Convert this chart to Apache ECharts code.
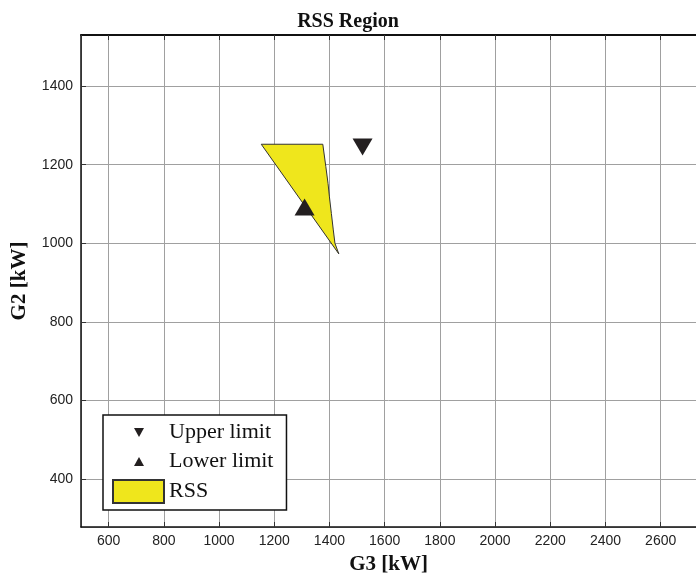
<!DOCTYPE html>
<html>
<head>
<meta charset="utf-8">
<script src="https://cdn.jsdelivr.net/npm/echarts@6/dist/echarts.min.js"></script>
<style>
  html, body { margin: 0; padding: 0; background: #fff; }
  #chart-container { width: 696px; height: 580px; }
</style>
</head>
<body>
<div id="chart-container"></div>
<script>
// RSS polygon outline (G3, G2) in kW
const rssG3 = [1153, 1376, 1387, 1395, 1400, 1407, 1414, 1420, 1434];
const rssG2 = [1252, 1252, 1195, 1152, 1118, 1076, 1034, 1000, 973];
// limit markers [G3, G2]
const upperLimit = [[1520, 1245]];
const lowerLimit = [[1310, 1092]];

const serif = 'Liberation Serif';
const sans = 'Liberation Sans';

const myChart = echarts.init(document.getElementById('chart-container'));

// small triangles inside a 51x23 box so legend icons keep the MATLAB look
const iconDown = 'path://M0 0M51 23M21 7L31 7L26 16Z';
const iconUp = 'path://M0 0M51 23M21 16L31 16L26 7Z';
const plain = (v) => String(v);

const option = {
	animation: false,
	backgroundColor: '#fff',
	title: {
		text: 'RSS Region',
		left: 'center',
		top: 7,
		textStyle: { fontFamily: serif, fontWeight: 'bold', fontSize: 20, color: '#111' }
	},
	// plot is cut at the right edge of the picture
	grid: { left: 81, top: 35, right: 0, height: 492, containLabel: false },
	legend: {
		orient: 'vertical',
		left: 103,
		top: 415,
		padding: [6, 13, 6, 9],
		itemWidth: 51,
		itemHeight: 23,
		itemGap: 6,
		backgroundColor: '#fff',
		borderColor: '#111',
		borderWidth: 1.5,
		borderRadius: 0,
		textStyle: { fontFamily: serif, fontSize: 22, color: '#111' },
		data: [
			{ name: 'Upper limit', icon: iconDown },
			{ name: 'Lower limit', icon: iconUp },
			{ name: 'RSS', icon: 'rect' }
		]
	},
	xAxis: [{
		type: 'value',
		position: 'bottom',
		min: 500,
		max: 2728,
		minInterval: 200,
		maxInterval: 200,
		name: 'G3 [kW]',
		nameLocation: 'middle',
		nameGap: 27,
		nameTextStyle: { fontFamily: serif, fontWeight: 'bold', fontSize: 21, color: '#111' },
		axisLine: { lineStyle: { color: '#111', width: 1.5 } },
		axisTick: { inside: true, length: 5, lineStyle: { color: '#333' } },
		axisLabel: { showMinLabel: false, showMaxLabel: false, margin: 7, fontFamily: sans, fontSize: 14, color: '#222', formatter: plain },
		splitLine: { show: true, lineStyle: { color: '#a0a0a0', width: 1 } }
	}, {
		type: 'value',
		position: 'top',
		min: 500,
		max: 2728,
		minInterval: 200,
		maxInterval: 200,
		axisLine: { lineStyle: { color: '#111', width: 2 } },
		axisTick: { inside: true, length: 5, lineStyle: { color: '#333' } },
		axisLabel: { show: false },
		splitLine: { show: false }
	}],
	yAxis: [{
		type: 'value',
		position: 'left',
		min: 278,
		max: 1530,
		minInterval: 200,
		maxInterval: 200,
		name: 'G2 [kW]',
		nameLocation: 'middle',
		nameRotate: 90,
		nameGap: 51,
		nameTextStyle: { fontFamily: serif, fontWeight: 'bold', fontSize: 21, color: '#111' },
		axisLine: { show: true, lineStyle: { color: '#111', width: 1.5 } },
		axisTick: { show: true, inside: true, length: 5, lineStyle: { color: '#333' } },
		axisLabel: { showMinLabel: false, showMaxLabel: false, margin: 8, fontFamily: sans, fontSize: 14, color: '#222', formatter: plain },
		splitLine: { show: true, lineStyle: { color: '#a0a0a0', width: 1 } }
	}],
	series: [{
		name: 'RSS',
		type: 'custom',
		xAxisIndex: 0,
		yAxisIndex: 0,
		data: rssG3.map((g3, i) => [g3, rssG2[i]]),
		encode: { x: 0, y: 1 },
		itemStyle: { color: '#efe61c', borderColor: '#333', borderWidth: 1 },
		renderItem: (params, api) => {
			// draw the whole polygon once
			if (params.dataIndex !== 0) return null;
			const points = rssG3.map((g3, i) => api.coord([g3, rssG2[i]]));
			return {
				type: 'polygon',
				shape: { points: points },
				style: { fill: '#efe61c', stroke: '#333', lineWidth: 1 }
			};
		}
	}, {
		name: 'Upper limit',
		type: 'scatter',
		data: upperLimit,
		symbol: 'triangle',
		symbolRotate: 180,
		symbolSize: [20, 17],
		itemStyle: { color: '#231f20', opacity: 1 }
	}, {
		name: 'Lower limit',
		type: 'scatter',
		data: lowerLimit,
		symbol: 'triangle',
		symbolSize: [20, 17],
		itemStyle: { color: '#231f20', opacity: 1 }
	}]
};

myChart.setOption(option);
</script>
</body>
</html>
